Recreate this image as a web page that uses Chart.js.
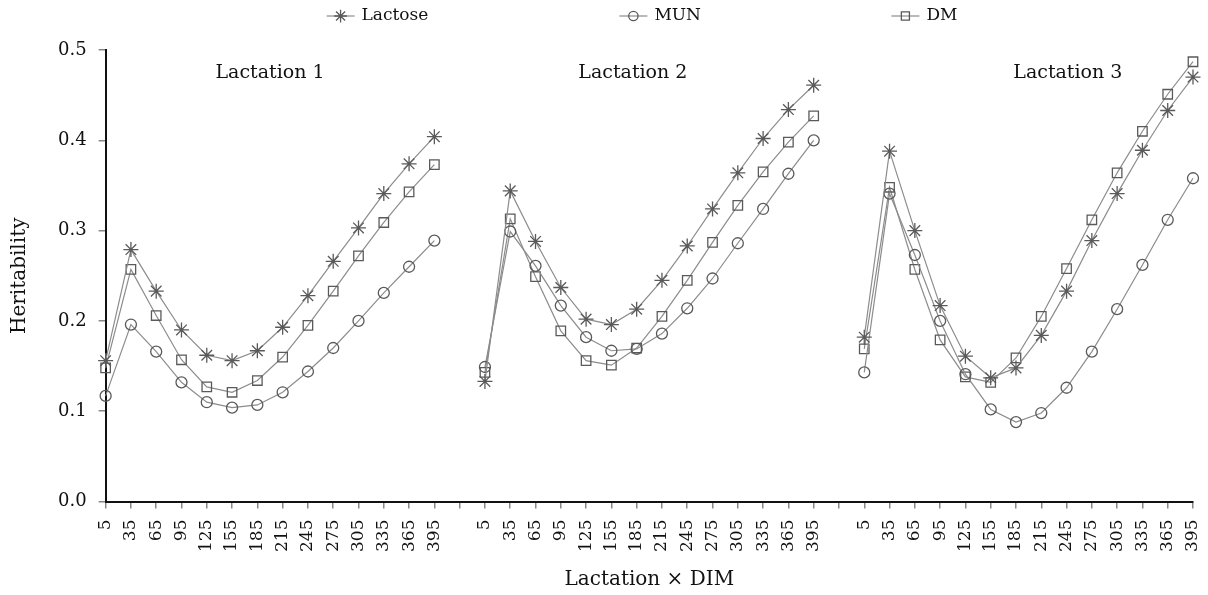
<!DOCTYPE html>
<html>
<head>
<meta charset="utf-8">
<script src="https://cdn.jsdelivr.net/npm/chart.js@4.4.1/dist/chart.umd.min.js"></script>
<style>
  html, body { margin: 0; padding: 0; background: #fff; }
  #wrap { width: 1208px; height: 595px; }
</style>
</head>
<body>
<div id="wrap"><canvas id="myChart" width="1208" height="595"></canvas></div>
<script>
// days in milk, repeated for each lactation block
const dim = [5, 35, 65, 95, 125, 155, 185, 215, 245, 275, 305, 335, 365, 395];
const lactations = ['Lactation 1', 'Lactation 2', 'Lactation 3'];

// heritability estimates per lactation
const lactose1 = [0.156, 0.279, 0.233, 0.190, 0.162, 0.156, 0.167, 0.193, 0.228, 0.266, 0.303, 0.341, 0.374, 0.404];
const mun1     = [0.117, 0.196, 0.166, 0.132, 0.110, 0.104, 0.107, 0.121, 0.144, 0.170, 0.200, 0.231, 0.260, 0.289];
const dm1      = [0.148, 0.257, 0.206, 0.157, 0.127, 0.121, 0.134, 0.160, 0.195, 0.233, 0.272, 0.309, 0.343, 0.373];

const lactose2 = [0.133, 0.344, 0.288, 0.237, 0.202, 0.196, 0.213, 0.245, 0.283, 0.324, 0.364, 0.402, 0.434, 0.461];
const mun2     = [0.149, 0.299, 0.261, 0.217, 0.182, 0.167, 0.169, 0.186, 0.214, 0.247, 0.286, 0.324, 0.363, 0.400];
const dm2      = [0.143, 0.313, 0.249, 0.189, 0.156, 0.151, 0.170, 0.205, 0.245, 0.287, 0.328, 0.365, 0.398, 0.427];

const lactose3 = [0.182, 0.388, 0.300, 0.217, 0.161, 0.137, 0.148, 0.184, 0.233, 0.289, 0.341, 0.389, 0.433, 0.470];
const mun3     = [0.143, 0.341, 0.273, 0.200, 0.141, 0.102, 0.088, 0.098, 0.126, 0.166, 0.213, 0.262, 0.312, 0.358];
const dm3      = [0.169, 0.348, 0.257, 0.179, 0.138, 0.132, 0.159, 0.205, 0.258, 0.312, 0.364, 0.410, 0.451, 0.487];

const yTicks = [0, 0.1, 0.2, 0.3, 0.4, 0.5];

const FONT = '"DejaVu Serif", "Liberation Serif", serif';
const INK = '#111';
const LINE_GREY = '#8c8c8c';
const MARK_GREY = '#5a5a5a';

// one empty slot between blocks so the lines break there
function joinBlocks(a, b, c) {
  return [...a, null, ...b, null, ...c];
}
const labels = [...dim.map(String), '', ...dim.map(String), '', ...dim.map(String)];

function series(label, data, pointStyle, radius) {
  return {
    label,
    data,
    borderColor: LINE_GREY,
    borderWidth: 1.2,
    backgroundColor: 'rgba(0,0,0,0)',
    pointStyle,
    pointRadius: radius,
    pointBorderColor: MARK_GREY,
    pointBackgroundColor: 'rgba(0,0,0,0)',
    pointBorderWidth: 1.3,
    fill: false,
    tension: 0,
    spanGaps: false,
  };
}

const datasets = [
  series('Lactose', joinBlocks(lactose1, lactose2, lactose3), 'star', 7.5),
  series('MUN', joinBlocks(mun1, mun2, mun3), 'circle', 5.5),
  series('DM', joinBlocks(dm1, dm2, dm3), 'rect', 6.7),
];

// caption offsets from each block's middle, in category steps
const panelShift = [0, -0.65, 1.55];
const legendSlots = [0.25, 0.51, 0.753];

const panelLabels = {
  id: 'panelLabels',
  afterDatasetsDraw(chart) {
    const { ctx, chartArea, scales: { x } } = chart;
    ctx.save();
    ctx.font = '19px ' + FONT;
    ctx.fillStyle = INK;
    ctx.textAlign = 'center';
    ctx.textBaseline = 'middle';
    lactations.forEach((name, g) => {
      const first = g * (dim.length + 1);
      const mid = first + (dim.length - 1) / 2 + panelShift[g];
      ctx.fillText(name, x.getPixelForValue(mid), chartArea.top + 23);
    });
    ctx.restore();
  }
};

// legend row: short line with the marker, then the name
const topLegend = {
  id: 'topLegend',
  afterDraw(chart) {
    const { ctx, chartArea } = chart;
    const y = 16;
    ctx.save();
    ctx.font = '17px ' + FONT;
    ctx.textBaseline = 'middle';
    chart.data.datasets.forEach((ds, i) => {
      const tw = ctx.measureText(ds.label).width;
      const lineW = 28;
      const itemW = lineW + 7 + tw;
      const x0 = chartArea.left + chartArea.width * legendSlots[i] - itemW / 2;

      ctx.strokeStyle = ds.borderColor;
      ctx.lineWidth = ds.borderWidth;
      ctx.beginPath();
      ctx.moveTo(x0, y);
      ctx.lineTo(x0 + lineW, y);
      ctx.stroke();

      ctx.strokeStyle = ds.pointBorderColor;
      ctx.fillStyle = 'rgba(0,0,0,0)';
      ctx.lineWidth = ds.pointBorderWidth;
      Chart.helpers.drawPoint(ctx, {
        pointStyle: ds.pointStyle,
        radius: ds.pointRadius * 0.85,
        borderWidth: ds.pointBorderWidth,
        rotation: 0
      }, x0 + lineW / 2, y);

      ctx.fillStyle = INK;
      ctx.textAlign = 'left';
      ctx.fillText(ds.label, x0 + lineW + 7, y);
    });
    ctx.restore();
  }
};

const ctx = document.getElementById('myChart').getContext('2d');
new Chart(ctx, {
  type: 'line',
  data: { labels, datasets },
  plugins: [panelLabels, topLegend],
  options: {
    responsive: false,
    animation: false,
    layout: { padding: { top: 50, right: 0, left: 0, bottom: 0 } },
    plugins: {
      legend: { display: false },
      tooltip: { enabled: false }
    },
    scales: {
      x: {
        type: 'category',
        offset: false,
        // the upright last label needs little room on the right
        afterFit: axis => { axis.paddingRight = 15; },
        grid: { display: true, drawOnChartArea: false, drawTicks: true, tickLength: 7, color: '#888', lineWidth: 1.5 },
        border: { display: true, color: INK, width: 2 },
        ticks: {
          autoSkip: false,
          maxRotation: 90,
          minRotation: 90,
          padding: 11,
          color: INK,
          font: { family: FONT, size: 17 }
        },
        title: {
          display: true,
          text: 'Lactation × DIM',
          color: INK,
          font: { family: FONT, size: 20 },
          padding: { top: 5, bottom: 3 }
        }
      },
      y: {
        min: 0,
        max: 0.5,
        afterBuildTicks: axis => { axis.ticks = yTicks.map(v => ({ value: v })); },
        grid: { display: true, drawOnChartArea: false, drawTicks: true, tickLength: 7, color: '#888', lineWidth: 1.5 },
        border: { display: true, color: INK, width: 2 },
        ticks: {
          padding: 12,
          color: INK,
          font: { family: FONT, size: 18 },
          callback: v => Number(v).toFixed(1)
        },
        title: {
          display: true,
          text: 'Heritability',
          color: INK,
          font: { family: FONT, size: 20 },
          padding: { top: 8, bottom: 14 }
        }
      }
    }
  }
});
</script>
</body>
</html>
